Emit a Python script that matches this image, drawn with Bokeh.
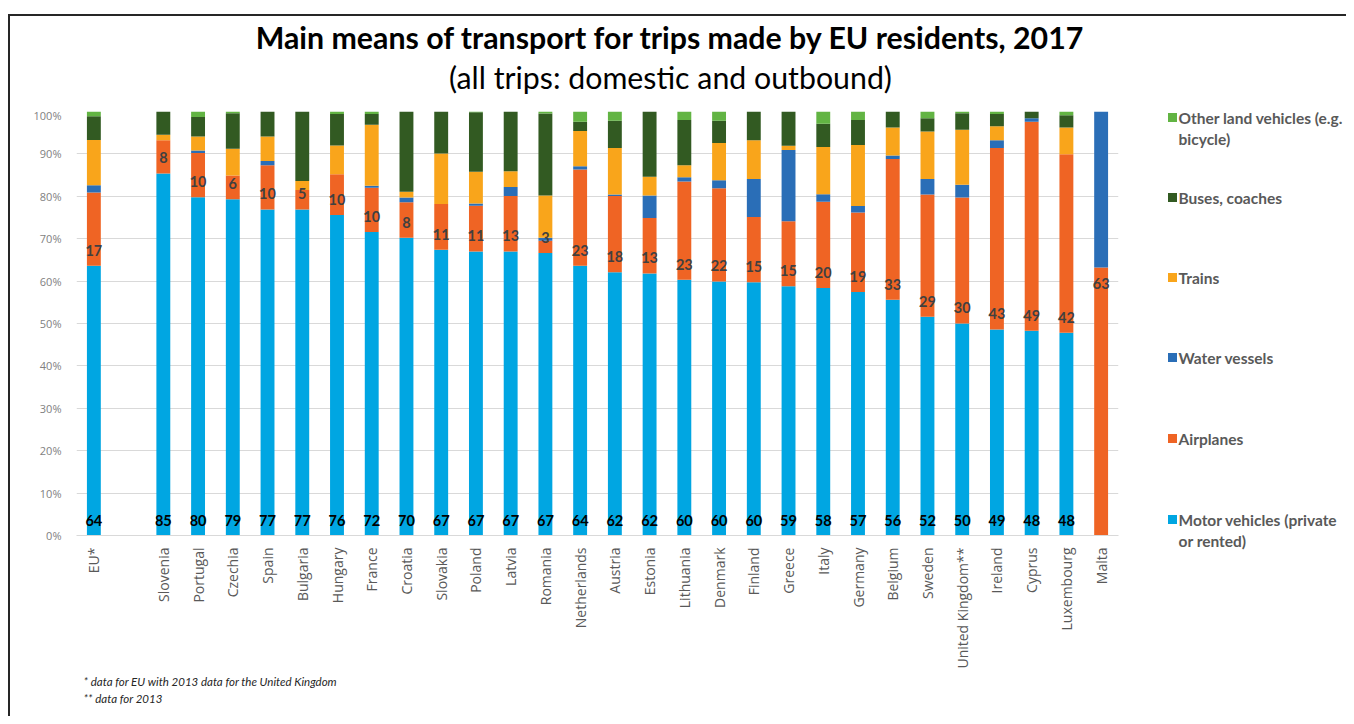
import math
from bokeh.plotting import figure
from bokeh.layouts import row, column
from bokeh.models import (ColumnDataSource, FactorRange, Range1d, FixedTicker, PrintfTickFormatter,
                          Title)
from bokeh.core.properties import value
from bokeh.embed import file_html
from bokeh.resources import INLINE

# ---------------- data (percent of trips) ----------------
countries = ["EU*", "Slovenia", "Portugal", "Czechia", "Spain", "Bulgaria", "Hungary", "France",
             "Croatia", "Slovakia", "Poland", "Latvia", "Romania", "Netherlands", "Austria",
             "Estonia", "Lithuania", "Denmark", "Finland", "Greece", "Italy", "Germany",
             "Belgium", "Sweden", "United Kingdom**", "Ireland", "Cyprus", "Luxembourg", "Malta"]
motor = [63.6, 85.4, 79.8, 79.3, 76.9, 76.9, 75.6, 71.6, 70.2, 67.4, 67.0, 67.0, 66.6, 63.6, 62.1,
         61.8, 60.3, 59.9, 59.7, 58.8, 58.4, 57.4, 55.6, 51.6, 50.0, 48.6, 48.3, 47.8, 0.0]
airplanes = [17.3, 7.8, 10.4, 5.6, 10.4, 4.6, 9.6, 10.4, 8.4, 10.8, 10.8, 13.1, 2.9, 22.7, 18.0,
             13.1, 23.2, 22.0, 15.4, 15.3, 20.3, 18.8, 33.2, 28.8, 29.7, 42.8, 49.3, 42.1, 63.2]
water = [1.7, 0.0, 0.6, 0.0, 1.0, 0.0, 0.0, 0.5, 1.1, 0.0, 0.5, 2.1, 0.7, 0.8, 0.3,
         5.3, 1.0, 1.9, 9.0, 16.8, 1.8, 1.5, 0.8, 3.7, 3.0, 1.8, 0.8, 0.0, 36.8]
trains = [10.7, 1.3, 3.3, 6.3, 5.8, 2.1, 6.8, 14.4, 1.4, 11.9, 7.5, 3.7, 10.0, 8.3, 11.0,
          4.4, 2.8, 8.8, 9.1, 1.0, 11.1, 14.4, 6.6, 11.2, 13.0, 3.3, 0.0, 6.3, 0.0]
buses = [5.6, 5.5, 4.6, 8.4, 5.9, 16.4, 7.4, 2.5, 18.9, 9.9, 14.0, 14.1, 19.3, 2.2, 6.4,
         15.4, 10.7, 5.2, 6.8, 8.1, 5.5, 5.9, 3.8, 3.1, 3.9, 2.9, 1.6, 2.9, 0.0]
other = [1.1, 0.0, 1.3, 0.4, 0.0, 0.0, 0.6, 0.6, 0.0, 0.0, 0.2, 0.0, 0.5, 2.4, 2.2,
         0.0, 2.0, 2.2, 0.0, 0.0, 2.9, 2.0, 0.0, 1.6, 0.4, 0.6, 0.0, 0.9, 0.0]

series_keys = ["motor", "airplanes", "water", "trains", "buses", "other"]
series_names = [["Motor vehicles (private", "or rented)"], ["Airplanes"], ["Water vessels"],
                ["Trains"], ["Buses, coaches"], ["Other land vehicles (e.g.", "bicycle)"]]
colors = ["#00A6E2", "#EF6424", "#2A6EB7", "#F9A51B", "#325A22", "#62B443"]
y_ticks = [0, 10, 20, 30, 40, 50, 60, 70, 80, 90, 100]

title_text = "Main means of transport for trips made by EU residents, 2017"
subtitle_text = "(all trips: domestic and outbound)"
notes = ["* data for EU with 2013 data for the United Kingdom", "** data for 2013"]

# ---------------- layout constants (pixels) ----------------
TOP_H = 91          # header strip height
MAIN_W, MAIN_H = 1112, 609
LEG_W = 224


def blank_fig(w, h):
    f = figure(width=w, height=h, x_range=Range1d(0, w), y_range=Range1d(h, 0),
               output_backend="svg", toolbar_location=None,
               x_axis_location=None, y_axis_location=None,
               min_border_left=0, min_border_right=0, min_border_top=0, min_border_bottom=0)
    f.outline_line_color = None
    f.grid.grid_line_color = None
    f.background_fill_color = "white"
    f.border_fill_color = "white"
    if "frame_align" in f.properties():
        f.frame_align = False
    return f


# ---------------- header ----------------
top = blank_fig(MAIN_W + LEG_W, TOP_H)
top.text(x=[660], y=[20], text=[title_text], text_align="center", text_baseline="middle",
         text_font=value("Lato"), text_font_style="bold", text_font_size="30.3px", text_color="#000000")
top.text(x=[660], y=[60], text=[subtitle_text], text_align="center", text_baseline="middle",
         text_font=value("Lato"), text_font_style="normal", text_font_size="30.3px", text_color="#000000")

# ---------------- main chart ----------------
factors = [countries[0], " "] + countries[1:]
source = ColumnDataSource(dict(country=countries, motor=motor, airplanes=airplanes, water=water,
                               trains=trains, buses=buses, other=other))

p = figure(x_range=FactorRange(*factors, range_padding=0), y_range=Range1d(0, 100),
           width=MAIN_W, height=MAIN_H, output_backend="svg", toolbar_location=None,
           min_border_left=66, min_border_right=4, min_border_top=4, min_border_bottom=181)
p.outline_line_color = None
p.background_fill_color = "white"
p.border_fill_color = "white"

renderers = p.vbar_stack(series_keys, x="country", width=0.4, color=colors, line_color=None,
                         source=source)

# data labels
motor_lab_y = [3.5 for _ in motor]
p.text(x=countries, y=motor_lab_y, text=[str(int(round(m))) if m > 0 else "" for m in motor],
       text_align="center", text_baseline="middle", text_font=value("Lato"),
       text_font_style="bold", text_font_size="14.5px", text_color="#000000")
air_lab_y = [m + 3.7 if m > 0 else m + a - 3.7 for m, a in zip(motor, airplanes)]
p.text(x=countries, y=air_lab_y, text=[str(int(round(a))) for a in airplanes],
       text_align="center", text_baseline="middle", text_font=value("Lato"),
       text_font_style="bold", text_font_size="14.5px", text_color="#404040")

# axes
p.xgrid.grid_line_color = None
p.ygrid.grid_line_color = "#D9D9D9"
p.ygrid.ticker = FixedTicker(ticks=y_ticks)
p.yaxis.ticker = FixedTicker(ticks=y_ticks)
p.yaxis.formatter = PrintfTickFormatter(format="%d%%")
p.yaxis.axis_line_color = None
p.yaxis.major_tick_line_color = None
p.yaxis.minor_tick_line_color = None
p.yaxis.major_label_standoff = 9
p.yaxis.major_label_text_font = "Open Sans"
p.yaxis.major_label_text_font_size = "11px"
p.yaxis.major_label_text_color = "#7F7F7F"

p.xaxis.axis_line_color = "#D9D9D9"
p.xaxis.major_tick_line_color = None
p.xaxis.minor_tick_line_color = None
p.xaxis.major_label_orientation = math.pi / 2
p.xaxis.major_label_standoff = 6
p.xaxis.major_label_text_font = "Open Sans"
p.xaxis.major_label_text_font_size = "14px"
p.xaxis.major_label_text_color = "#595959"

# footnotes
for n in notes:
    p.add_layout(Title(text=n, align="left", offset=7, standoff=2, text_font="Lato",
                       text_font_style="italic", text_font_size="11.5px",
                       text_color="#262626"), "below")

# ---------------- legend (separate strip) ----------------
leg = blank_fig(LEG_W, MAIN_H)
leg_rows = [10, 90, 170, 250, 331, 412]          # top item first
leg_colors = list(reversed(colors))
leg_labels = list(reversed(series_names))
leg.rect(x=[50] * 6, y=leg_rows, width=9, height=9, fill_color=leg_colors, line_color=None)
tx, ty, tt = [], [], []
for ry, lines in zip(leg_rows, leg_labels):
    for j, t in enumerate(lines):
        tx.append(56)
        ty.append(ry + 21 * j)
        tt.append(t)
leg.text(x=tx, y=ty, text=tt, text_align="left", text_baseline="middle",
         text_font=value("Lato"), text_font_style="bold", text_font_size="15.5px",
         text_color="#595959")

layout = column(top, row(p, leg))
layout.styles = {"border-left": "2px solid #262626", "border-top": "2px solid #262626",
                 "margin-top": "14px", "margin-left": "8px"}

open("out.html", "w").write(file_html(layout, INLINE))
